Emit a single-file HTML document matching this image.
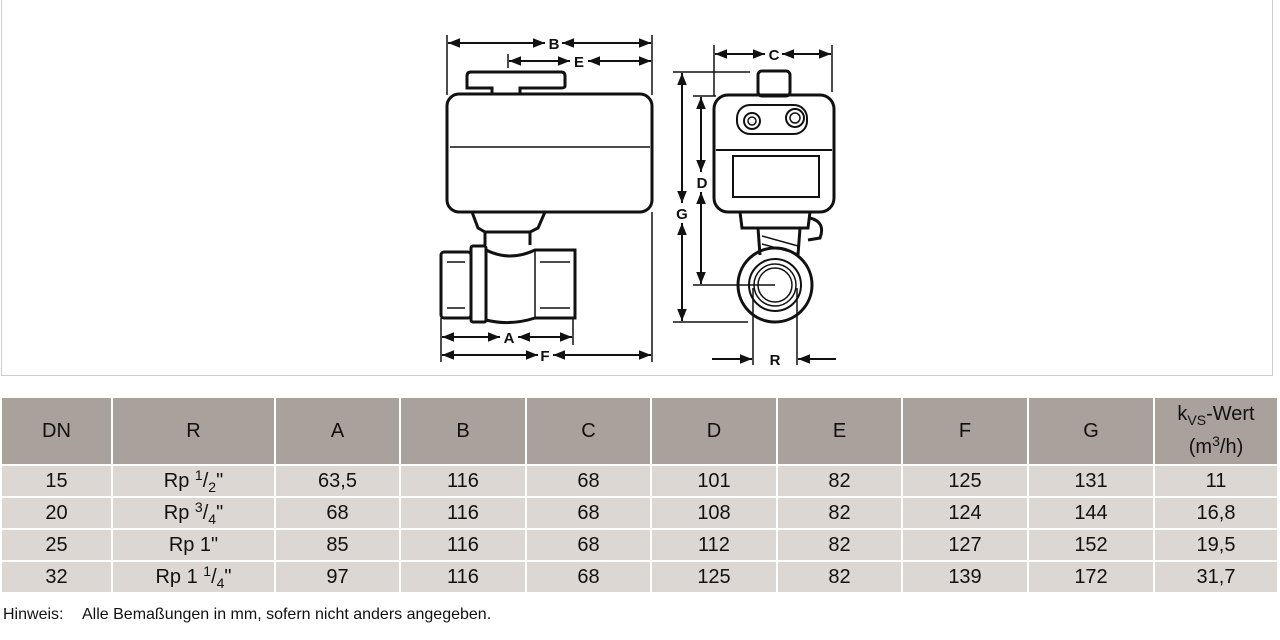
<!DOCTYPE html>
<html><head><meta charset="utf-8"><style>
body{margin:0;width:1280px;height:640px;background:#fff;position:relative;overflow:hidden;font-family:"Liberation Sans",sans-serif;}
#box{position:absolute;left:1px;top:-1px;width:1272px;height:377px;border:1px solid #ccc;box-sizing:border-box;}
svg{position:absolute;left:0;top:0;}
table{position:absolute;left:0px;top:396px;border-collapse:collapse;font-size:20px;color:#111;}
td{border:2px solid #fff;text-align:center;padding:0;}
tr.h td{background:#a8a19c;height:62px;}
tr.d td{background:#dcd7d2;height:30px;}
sup{font-size:14px;vertical-align:7px;line-height:0}
sub{font-size:14px;line-height:0}
.f{position:absolute;top:606px;font-size:16px;color:#111;}
</style></head><body>
<div id="box"></div>
<svg width="1280" height="380" viewBox="0 0 1280 380">
<defs><marker id="a" viewBox="0 0 10 10" refX="10" refY="5" markerWidth="6" markerHeight="6" orient="auto-start-reverse"><path d="M0,1 L10,5 L0,9 z" fill="#111"/></marker></defs>
<g stroke="#111" fill="none" stroke-width="1.5">
<line x1="447" y1="35" x2="447" y2="95"/><line x1="652" y1="35" x2="652" y2="95"/>
<line x1="508" y1="54" x2="508" y2="68"/>
<line x1="441" y1="318" x2="441" y2="362"/><line x1="573" y1="318" x2="573" y2="345"/>
<line x1="652" y1="212" x2="652" y2="362"/>
<line x1="714" y1="45" x2="714" y2="96"/><line x1="832" y1="45" x2="832" y2="92"/>
<line x1="673" y1="72" x2="750" y2="72"/><line x1="673" y1="322" x2="748" y2="322"/>
<line x1="693" y1="96" x2="716" y2="96"/><line x1="693" y1="285" x2="775" y2="285"/>
<line x1="753" y1="288" x2="753" y2="365"/><line x1="797" y1="288" x2="797" y2="365"/>
<g stroke-width="2" marker-start="url(#a)" marker-end="url(#a)">
<line x1="448" y1="43" x2="545" y2="43"/><line x1="562" y1="43" x2="651" y2="43"/>
<line x1="509" y1="61" x2="570" y2="61"/><line x1="588" y1="61" x2="651" y2="61"/>
<line x1="442" y1="337" x2="500" y2="337"/><line x1="518" y1="337" x2="572" y2="337"/>
<line x1="442" y1="355" x2="538" y2="355"/><line x1="553" y1="355" x2="651" y2="355"/>
<line x1="715" y1="54" x2="765" y2="54"/><line x1="782" y1="54" x2="831" y2="54"/>
<line x1="701" y1="97" x2="701" y2="172"/><line x1="701" y1="192" x2="701" y2="284"/>
<line x1="682" y1="73" x2="682" y2="203"/><line x1="682" y1="223" x2="682" y2="321"/>
</g>
<g stroke-width="2" marker-end="url(#a)">
<line x1="712" y1="359" x2="752" y2="359"/><line x1="836" y1="359" x2="798" y2="359"/>
</g>
<g stroke-width="3">
<path d="M467,88 L467,76 Q467,72 471,72 L561,72 Q565,72 565,76 L565,86 Q565,88 561,88 L520,88 L520,94 L492,94 L492,88 Z"/>
<rect x="447" y="94" width="205" height="118" rx="12"/>
<line x1="450" y1="147" x2="650" y2="147" stroke-width="1.5"/>
<path d="M472,212 L478,228 L485,232 L485,245 M545,212 L538,228 L530,232 L530,245"/>
<path d="M485,232 L530,232"/>
<rect x="441" y="252" width="30" height="66" rx="3"/>
<rect x="471" y="246" width="15" height="76" rx="2"/>
<path d="M486,250 Q510,262 535,250 L575,250 L575,318 L535,318 Q510,326 486,320"/>
<line x1="535" y1="250" x2="535" y2="318" stroke-width="1.5"/>
<line x1="447" y1="262" x2="465" y2="262" stroke-width="1.5"/><line x1="447" y1="308" x2="465" y2="308" stroke-width="1.5"/>
<line x1="540" y1="262" x2="570" y2="262" stroke-width="1.5"/><line x1="540" y1="308" x2="570" y2="308" stroke-width="1.5"/>
</g>
<g stroke-width="3">
<rect x="758" y="71" width="32" height="25" rx="4"/>
<rect x="714" y="95" width="120" height="117" rx="14"/>
<rect x="737" y="105" width="70" height="29" rx="13" stroke-width="2"/>
<circle cx="752" cy="121" r="8" stroke-width="2"/><circle cx="752" cy="121" r="4" stroke-width="1.5"/>
<circle cx="795" cy="118" r="9" stroke-width="2"/><circle cx="795" cy="118" r="5" stroke-width="1.5"/>
<line x1="716" y1="150" x2="832" y2="150" stroke-width="2"/>
<rect x="733" y="156" width="86" height="41" stroke-width="2"/>
<path d="M740,212 L742,228 L808,228 L810,212"/>
<path d="M810,218 Q826,222 820,238 L808,240"/>
<path d="M758,228 L760,255 M800,228 L798,255"/>
<path d="M762,236 L798,246 M762,244 L798,254" stroke-width="1.5"/>
<circle cx="775" cy="285" r="37"/>
<circle cx="775" cy="285" r="26" stroke-width="2"/>
<circle cx="775" cy="285" r="21" stroke-width="1.5"/>
<circle cx="775" cy="285" r="17" stroke-width="1.5"/>
</g>
</g>
<g font-family="Liberation Sans" font-size="15" font-weight="bold" fill="#111" text-anchor="middle">
<text x="554" y="49">B</text><text x="579" y="67">E</text>
<text x="509" y="343">A</text><text x="545" y="361">F</text>
<text x="774" y="60">C</text><text x="702" y="188">D</text>
<text x="682" y="219">G</text><text x="775" y="365">R</text>
</g>
</svg>
<table>
<colgroup><col style="width:111px"><col style="width:163px"><col style="width:125px"><col style="width:126px"><col style="width:125px"><col style="width:126px"><col style="width:125px"><col style="width:126px"><col style="width:126px"><col style="width:124px"></colgroup>
<tr class="h"><td>DN</td><td>R</td><td>A</td><td>B</td><td>C</td><td>D</td><td>E</td><td>F</td><td>G</td><td style="line-height:33px">k<sub>VS</sub>-Wert<br>(m<sup>3</sup>/h)</td></tr>
<tr class="d"><td>15</td><td>Rp <sup>1</sup>/<sub>2</sub>"</td><td>63,5</td><td>116</td><td>68</td><td>101</td><td>82</td><td>125</td><td>131</td><td>11</td></tr>
<tr class="d"><td>20</td><td>Rp <sup>3</sup>/<sub>4</sub>"</td><td>68</td><td>116</td><td>68</td><td>108</td><td>82</td><td>124</td><td>144</td><td>16,8</td></tr>
<tr class="d"><td>25</td><td>Rp 1"</td><td>85</td><td>116</td><td>68</td><td>112</td><td>82</td><td>127</td><td>152</td><td>19,5</td></tr>
<tr class="d"><td>32</td><td>Rp 1 <sup>1</sup>/<sub>4</sub>"</td><td>97</td><td>116</td><td>68</td><td>125</td><td>82</td><td>139</td><td>172</td><td>31,7</td></tr>
</table>
<div class="f" style="left:3px">Hinweis:</div>
<div class="f" style="left:82px">Alle Bemaßungen in mm, sofern nicht anders angegeben.</div>
</body></html>
